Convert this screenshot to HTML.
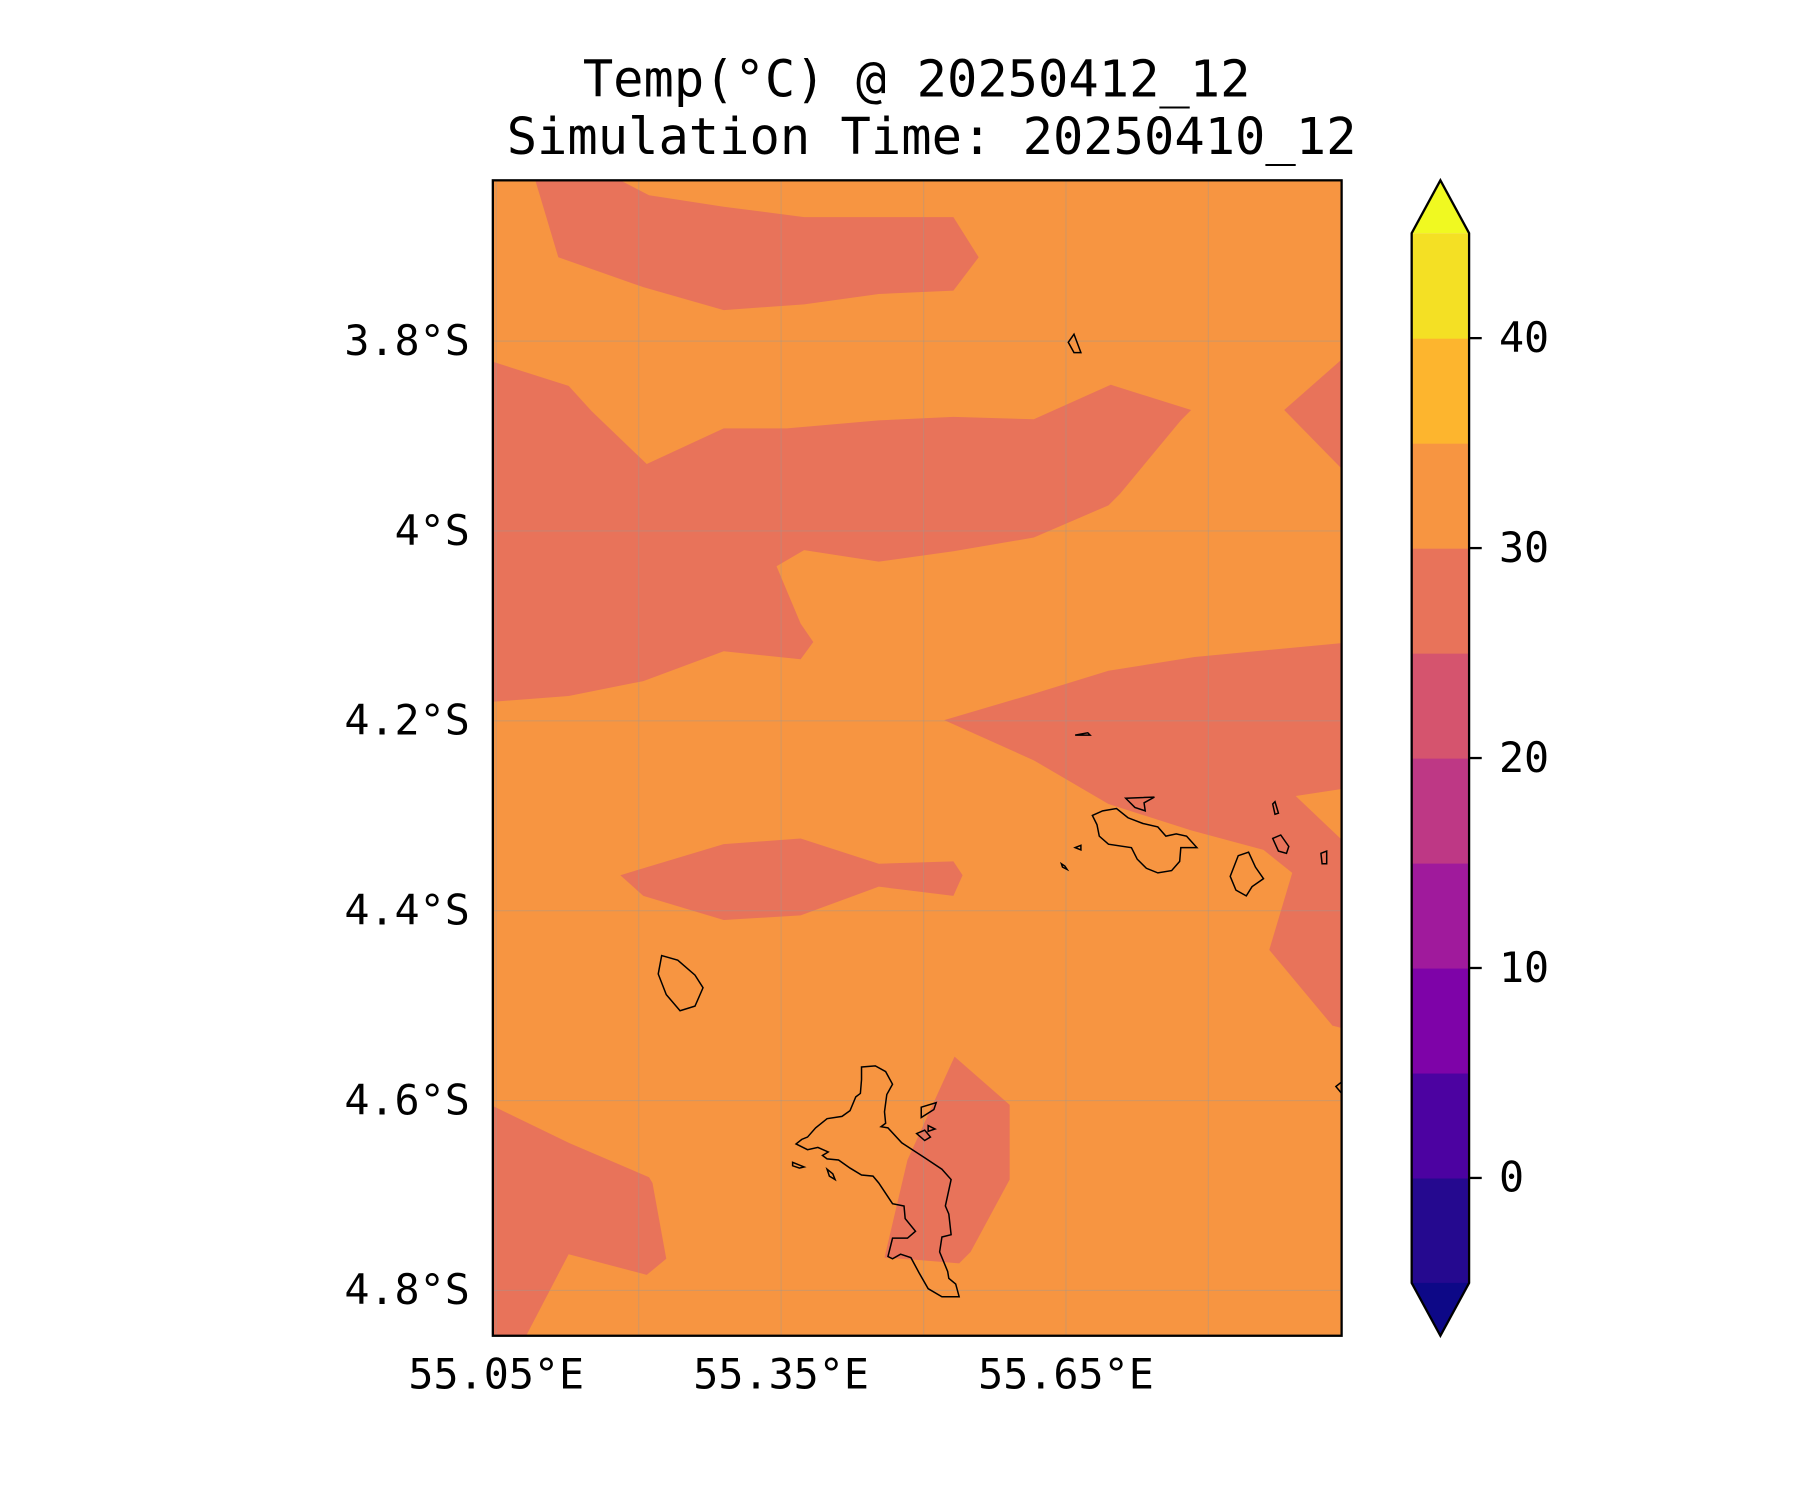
<!DOCTYPE html>
<html><head><meta charset="utf-8"><style>
html,body{margin:0;padding:0;background:#fff;}
svg{display:block;font-family:"DejaVu Sans Mono","Liberation Mono",monospace;}
</style></head><body>
<svg id="chart" width="1800" height="1500" viewBox="0 0 1567 1306" xmlns="http://www.w3.org/2000/svg">
<text x="798" y="84" font-size="43.9" text-anchor="middle">Temp(°C) @ 20250412_12</text>
<text x="811" y="134" font-size="43.9" text-anchor="middle">Simulation Time: 20250410_12</text>
<g id="map">
<rect x="429" y="157" width="739" height="1006" fill="#f79541"/>
<g fill="#e8735a">
<polygon points="466,157 540,157 565,170 630,180 700,189 830,189 852,224 830,253 765,256 700,265 630,270 560,250 486,224"/>
<polygon points="429,315 495,336 515,358 563,404 630,373 685,373 765,366 830,363 900,365 967,335 1037,357 1028,366 975,430 965,440 900,468 830,480 765,489 700,479 676,493 697,543 708,559 697,574 630,567 560,593 495,606 429,611"/>
<polygon points="1168,313 1118,357 1168,408"/>
<polygon points="822,627 900,604 965,584 1040,572 1168,560 1168,687 1128,693 1168,731 1168,895 1160,893 1105,827 1125,760 1100,740 1037,723 965,700 900,662"/>
<polygon points="540,762 630,735 697,730 765,752 830,750 838,762 830,780 765,772 697,797 630,801 560,780"/>
<polygon points="429,963 495,995 565,1025 568,1030 580,1096 563,1110 495,1092 458,1163 429,1163"/>
<polygon points="831,920 879,962 879,1027 845,1090 835,1100 800,1097 770,1095 790,1010"/>
</g>
<g id="grid" stroke="#999" stroke-opacity="0.35" stroke-width="1"></g>
<g fill="none" stroke="#000" stroke-width="1.3">
<polygon points="750,929 762,928 771,933 777,944 772,953 770,968 771,978 767,981 773,982 785,995 805,1008 820,1018 828,1027 823,1050 826,1057 828,1075 820,1077 818,1090 825,1107 826,1113 832,1118 835,1129 820,1129 808,1122 800,1108 793,1095 784,1092 777,1096 773,1094 777,1078 790,1078 797,1072 788,1061 787,1050 777,1048 765,1030 760,1024 750,1023 740,1017 730,1010 720,1009 716,1006 721,1003 712,999 703,1001 693,996 698,992 703,990 710,982 720,974 733,972 740,967 745,955 749,952 750,940"/>
<polygon points="802,964 815,960 813,966 802,973"/>
<polygon points="798,987 805,984 810,990 805,993"/>
<polygon points="808,980 814,983 808,985"/>
<polygon points="690,1012 700,1016 696,1017 690,1015"/>
<polygon points="720,1018 725,1022 727,1027 722,1024"/>
<polygon points="576,832 590,836 605,849 612,860 605,876 592,880 580,866 573,848"/>
<polygon points="951,710 960,706 972,704 982,712 995,717 1008,720 1015,728 1024,726 1033,728 1042,738 1028,738 1027,750 1020,758 1008,760 998,756 990,748 985,738 965,735 957,728 955,718"/>
<polygon points="980,695 1005,694 996,699 997,706 988,703"/>
<polygon points="1078,745 1087,742 1093,755 1100,765 1090,772 1085,780 1076,775 1071,763"/>
<polygon points="1108,730 1115,727 1122,737 1120,743 1113,741"/>
<polygon points="1108,700 1110,698 1113,708 1110,709"/>
<polygon points="1150,743 1155,741 1155,752 1151,752"/>
<polygon points="936,640 947,638 949,640 940,640"/>
<polygon points="936,738 941,736 941,740"/>
<polygon points="924,752 927,754 929,757 925,755"/>
<polygon points="935,291 941,307 935,307 930,298"/>
<polyline points="1168,942 1163,946 1168,952"/>
</g>
<rect x="429" y="157" width="739" height="1006" fill="none" stroke="#000" stroke-width="2"/>
</g>
<g id="axes" font-size="36.3"></g>
<g id="cbar"></g>
</svg>
<script>
const latTicks = [3.8, 4.0, 4.2, 4.4, 4.6, 4.8];
const latLabels = ["3.8°S", "4°S", "4.2°S", "4.4°S", "4.6°S", "4.8°S"];
const lonTicks = [55.05, 55.35, 55.65];
const lonLabels = ["55.05°E", "55.35°E", "55.65°E"];
const lonGrid = [55.05, 55.2, 55.35, 55.5, 55.65, 55.8];
const cbarLevels = [-5, 0, 5, 10, 15, 20, 25, 30, 35, 40, 45];
const cbarColors = ["#25098f", "#4c02a1", "#7e03a8", "#a01a9c", "#be3885", "#d5546e", "#e8735a", "#f79541", "#fdb52e", "#f4e024"];
const cbarTicks = [0, 10, 20, 30, 40];
const cbarUnder = "#0d0887";
const cbarOver = "#f0f921";

const NS = "http://www.w3.org/2000/svg";
function yLat(v){ return 297 + (v - 3.8) / 0.2 * 165.3; }
function xLon(v){ return 432 + (v - 55.05) / 0.3 * 248; }
const cbTop = 203, cbBot = 1117;
function yCb(v){ return cbBot - (v - cbarLevels[0]) / (cbarLevels[cbarLevels.length-1] - cbarLevels[0]) * (cbBot - cbTop); }
function mk(tag, attrs, parent){ const e = document.createElementNS(NS, tag); for (const k in attrs) e.setAttribute(k, attrs[k]); parent.appendChild(e); return e; }

const grid = document.getElementById('grid');
const axes = document.getElementById('axes');
lonGrid.forEach(v => {
  const l = mk('line', {x1: xLon(v), x2: xLon(v), y1: 157, y2: 1163}, grid);
  
  
});
latTicks.forEach((v, i) => {
  const l = mk('line', {x1: 429, x2: 1168, y1: yLat(v), y2: yLat(v)}, grid);
  
  
  const t = mk('text', {x: 409, y: yLat(v) + 12, 'text-anchor': 'end'}, axes);
  t.textContent = latLabels[i];
  
  
});
lonTicks.forEach((v, i) => {
  const t = mk('text', {x: xLon(v), y: 1209, 'text-anchor': 'middle'}, axes);
  t.textContent = lonLabels[i];
  
  
});

const cb = document.getElementById('cbar');
const x0 = 1229, x1 = 1279;
for (let i = 0; i < cbarColors.length; i++) {
  const yA = yCb(cbarLevels[i+1]), yB = yCb(cbarLevels[i]);
  const r = mk('rect', {x: x0, y: yA, width: x1 - x0, height: yB - yA + 0.5, fill: cbarColors[i]}, cb);
  
  
}
const up = mk('polygon', {points: `${x0},${cbTop} ${(x0+x1)/2},157 ${x1},${cbTop}`, fill: cbarOver}, cb);


const dn = mk('polygon', {points: `${x0},${cbBot} ${(x0+x1)/2},1163 ${x1},${cbBot}`, fill: cbarUnder}, cb);


const outline = mk('polygon', {points: `${x0},${cbTop} ${(x0+x1)/2},157 ${x1},${cbTop} ${x1},${cbBot} ${(x0+x1)/2},1163 ${x0},${cbBot}`, fill: 'none', stroke: '#000', 'stroke-width': 2}, cb);


cbarTicks.forEach(v => {
  const l = mk('line', {x1: x1, x2: x1 + 11, y1: yCb(v), y2: yCb(v), stroke: '#000', 'stroke-width': 2}, cb);
  
  
  const t = mk('text', {x: 1305, y: yCb(v) + 12, 'font-size': 36.3}, cb);
  t.textContent = String(v);
  
  
});
</script>
</body></html>
